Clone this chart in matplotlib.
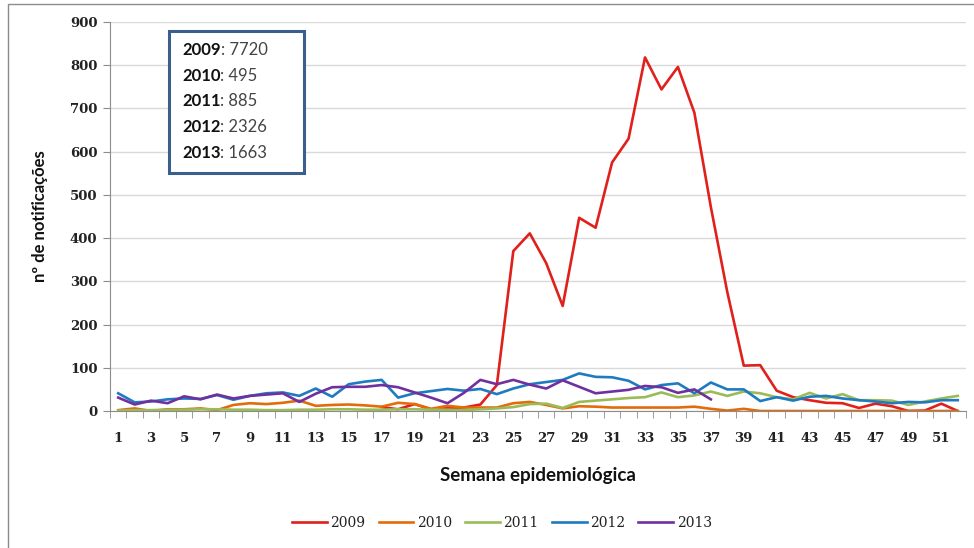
import matplotlib
matplotlib.use("Agg")
import matplotlib.pyplot as plt
from matplotlib.patches import Rectangle
from matplotlib.text import Annotation
import numpy as np

nan = np.nan

# semanas epidemiológicas 1..52
weeks = list(range(1, 53))

s2009 = [nan] * 16 + [9, 4, 16, 4, 7, 8, 15, 60, 370, 411, 342, 243, 447, 424, 575, 630,
                      818, 744, 796, 690, 472, 275, 105, 106, 47, 32, 25, 19, 18, 7, 17, 11,
                      0, 1, 17, 0]
s2010 = [2, 6, 0, 4, 4, 6, 2, 14, 18, 16, 19, 24, 12, 14, 15, 13, 10, 19, 16, 5,
         12, 8, 8, 8, 18, 21, 14, 6, 11, 10, 8, 8, 8, 8, 8, 10, 5, 1, 5, 0,
         0, 0, 0, 0, 0, 0, 0, 0, 0, 0, 0, 0]
s2011 = [1, 2, 2, 3, 3, 4, 4, 3, 3, 2, 2, 3, 3, 4, 4, 3, 3, 4, 4, 3,
         3, 2, 4, 6, 9, 16, 17, 7, 21, 24, 27, 30, 32, 43, 32, 36, 45, 35, 45, 41,
         32, 27, 42, 29, 39, 25, 25, 24, 14, 22, 29, 35]
s2012 = [41, 20, 22, 27, 29, 28, 37, 26, 35, 41, 43, 35, 52, 33, 62, 68, 72, 31, 41, 46,
         51, 47, 51, 39, 52, 62, 67, 72, 87, 79, 78, 70, 50, 60, 64, 41, 66, 50, 50, 23,
         32, 24, 33, 35, 29, 25, 22, 18, 21, 20, 25, 25]
s2013 = [31, 15, 24, 18, 34, 27, 38, 29, 35, 38, 41, 21, 40, 55, 56, 56, 60, 55, 43, 31,
         18, 42, 72, 62, 72, 61, 52, 71, 56, 41, 45, 49, 58, 55, 42, 50, 27] + [nan] * 15

years = ["2009", "2010", "2011", "2012", "2013"]
totals = ["7720", "495", "885", "2326", "1663"]
series = [s2009, s2010, s2011, s2012, s2013]
colors = ["#E0201B", "#E36C0A", "#9BBB59", "#1F7BC0", "#7030A0"]

W, H = 974, 548
fig = plt.figure(figsize=(W / 100, H / 100), dpi=100)
ax = fig.add_axes([110 / W, 1 - 411 / H, (966 - 110) / W, (411 - 22) / H])

for name, vals, c in zip(years, series, colors):
    ax.plot(weeks, vals, color=c, lw=1.9, label=name, solid_joinstyle="round")

ax.set_xlim(0.5, 52.5)
ax.set_ylim(0, 900)
ax.set_yticks(range(0, 901, 100))
ax.set_xticks(range(1, 53, 2))
ax.set_xticks(np.arange(0.5, 53, 1), minor=True)
ax.yaxis.grid(True, color="#D9D9D9", lw=1)
ax.set_axisbelow(True)

for s in ["top", "right"]:
    ax.spines[s].set_visible(False)
for s in ["left", "bottom"]:
    ax.spines[s].set_color("#8C8C8C")

tick_font = dict(family="DejaVu Serif", weight="bold", size=9)
ax.tick_params(axis="y", length=5, color="#8C8C8C", pad=4, labelcolor="#222222")
ax.tick_params(axis="x", which="major", length=0, pad=15, labelcolor="#222222")
ax.tick_params(axis="x", which="minor", length=5, color="#8C8C8C")
for lab in ax.get_xticklabels() + ax.get_yticklabels():
    lab.set_fontproperties(tick_font)
    lab.set_fontsize(9.5)

fig.text(40 / W, 1 - 216 / H, "nº de notificações", rotation=90, ha="center", va="center",
         family="Lato", weight="bold", size=12, color="#111111")
fig.text(538 / W, 1 - 475 / H, "Semana epidemiológica", ha="center", va="center",
         family="Lato", weight="bold", size=13.5, color="#111111")

leg = fig.legend(loc="center", bbox_to_anchor=(502 / W, 1 - 523 / H), ncol=5, frameon=False,
                 handlelength=2.5, columnspacing=0.95, handletextpad=0.25,
                 prop=dict(family="DejaVu Serif", size=10))
for t in leg.get_texts():
    t.set_color("#222222")

# caixa com totais por ano
fig.patches.append(Rectangle((169 / W, 1 - 173 / H), (304 - 169) / W, (173 - 31) / H,
                             transform=fig.transFigure, fill=True, facecolor="white",
                             edgecolor="#3B5E8A", lw=2.2, zorder=5))
for i, (y, tot) in enumerate(zip(years, totals)):
    ypos = 1 - (50 + i * 25.7) / H
    t = fig.text(182 / W, ypos, y, ha="left", va="center", family="Lato", weight="bold",
                 size=12, color="#111111", zorder=6)
    a = Annotation(": " + tot, xy=(1, 0.5), xycoords=t, ha="left", va="center",
                   family="Lato", size=12, color="#444444", zorder=6)
    fig.add_artist(a)

# moldura do gráfico
fig.patches.append(Rectangle((8 / W, -0.1), 1.2, 1 - 4 / H + 0.1, transform=fig.transFigure,
                             fill=False, edgecolor="#8C8C8C", lw=1))

fig.savefig("out.png", dpi=100)
